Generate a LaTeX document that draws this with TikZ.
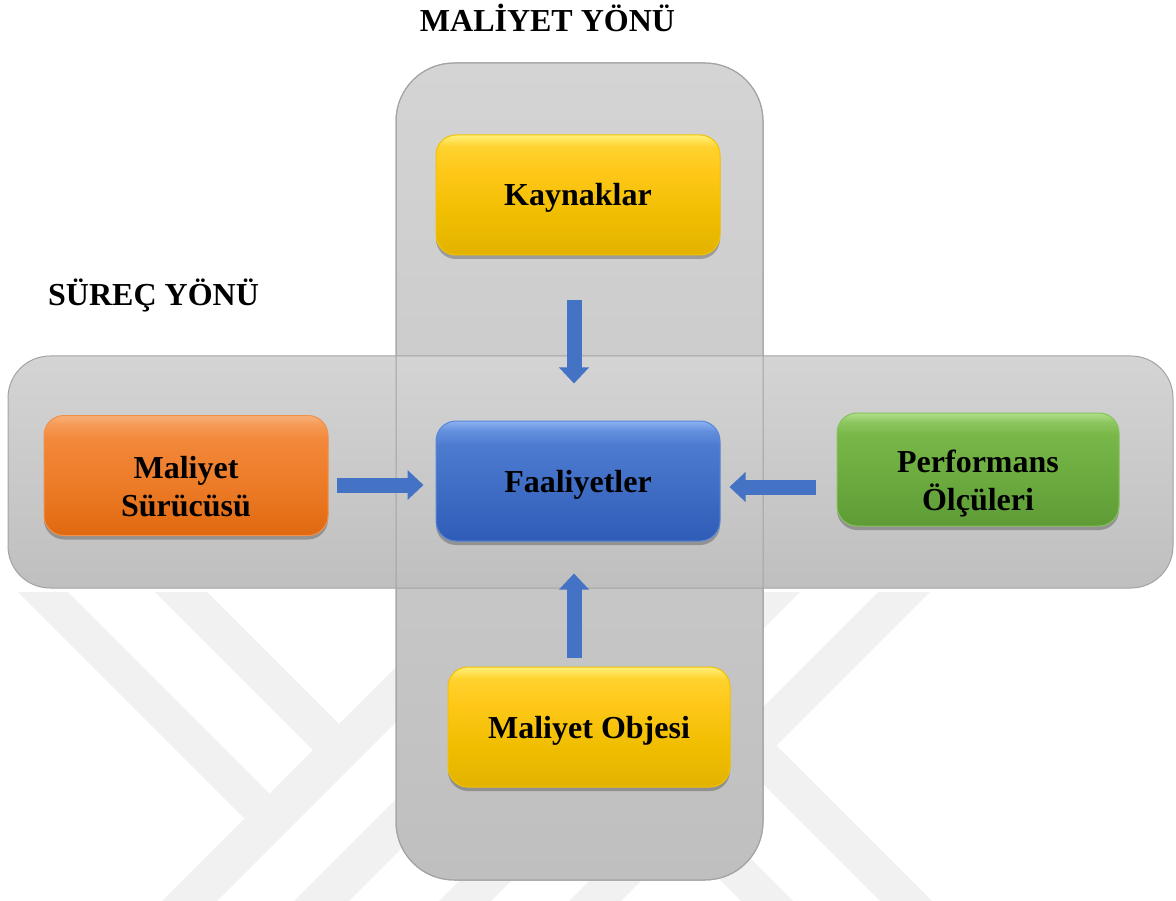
\documentclass[tikz,border=0pt]{standalone}
\usepackage{fontspec}
\setmainfont{Liberation Serif}
\usetikzlibrary{arrows.meta,shadows,calc}
\definecolor{wm}{HTML}{F1F1F1}
\definecolor{gtop}{HTML}{D4D4D4}
\definecolor{gbot}{HTML}{BFBFBF}
\definecolor{gline}{HTML}{A3A3A3}
\definecolor{ablue}{HTML}{4472C4}
\definecolor{yline}{HTML}{F2C200}
\definecolor{bline}{HTML}{5A86D6}
\definecolor{oline}{HTML}{F29048}
\definecolor{grline}{HTML}{86C25C}
\definecolor{ya}{HTML}{E3B200}\definecolor{yb}{HTML}{F0BE00}\definecolor{yc}{HTML}{FFC81A}
\definecolor{yd}{HTML}{FFD22E}\definecolor{ye}{HTML}{FFE45A}\definecolor{yf}{HTML}{FFF07A}
\definecolor{ba}{HTML}{2E5CB7}\definecolor{bb}{HTML}{3E6CC4}\definecolor{bc}{HTML}{4D7BD0}
\definecolor{bd}{HTML}{6590DE}\definecolor{be}{HTML}{8CB2F2}
\definecolor{oa}{HTML}{E0690F}\definecolor{ob}{HTML}{EC7A26}\definecolor{oc}{HTML}{F2883A}
\definecolor{od}{HTML}{F59A55}\definecolor{oe}{HTML}{F8B07A}
\definecolor{ga}{HTML}{5E9B36}\definecolor{gb}{HTML}{6AAA3E}\definecolor{gc}{HTML}{78B648}
\definecolor{gd}{HTML}{8CC660}\definecolor{ge}{HTML}{B0E08A}
\pgfdeclareverticalshading{yshade}{100bp}{color(0bp)=(ya); color(25bp)=(ya); color(42bp)=(yb); color(60bp)=(yc); color(70bp)=(yd); color(73bp)=(ye); color(75bp)=(yf); color(100bp)=(yf)}
\pgfdeclareverticalshading{bshade}{100bp}{color(0bp)=(ba); color(25bp)=(ba); color(45bp)=(bb); color(65bp)=(bc); color(71bp)=(bd); color(75bp)=(be); color(100bp)=(be)}
\pgfdeclareverticalshading{oshade}{100bp}{color(0bp)=(oa); color(25bp)=(oa); color(45bp)=(ob); color(65bp)=(oc); color(71bp)=(od); color(75bp)=(oe); color(100bp)=(oe)}
\pgfdeclareverticalshading{gshade}{100bp}{color(0bp)=(ga); color(25bp)=(ga); color(45bp)=(gb); color(65bp)=(gc); color(71bp)=(gd); color(75bp)=(ge); color(100bp)=(ge)}
\begin{document}
\begin{tikzpicture}[x=1pt,y=-1pt,
  bigfont/.style={font=\bfseries\fontsize{32}{38}\selectfont},
  title/.style={bigfont, inner sep=0pt, anchor=base},
  pane/.style={draw=gline, line width=1pt, top color=gtop, bottom color=gbot},
  card/.style={bigfont, align=center, rounded corners=20pt, inner sep=0pt,
    minimum width=284pt, minimum height=120pt, line width=1pt,
    drop shadow={shadow xshift=0pt, shadow yshift=-4pt, opacity=0.25, fill=black}},
  oneline/.style={text height=22pt, text depth=0pt},
  twoline/.style={text height=41pt, text depth=35pt},
  yellowcard/.style={card, draw=yline, shading=yshade},
  bluecard/.style={card, draw=bline, shading=bshade},
  orangecard/.style={card, draw=oline, shading=oshade},
  greencard/.style={card, draw=grline, shading=gshade},
  barrow/.style={draw=ablue, line width=15pt, -{Triangle[width=29pt,length=16pt]}}
]
\useasboundingbox (0,0) rectangle (1176,901);
% watermark
\begin{scope}
  \clip (0,592) rectangle (1176,901);
  \fill[wm] (471,592) -- (526,592) -- (217,901) -- (162,901) -- cycle;
  \fill[wm] (603,592) -- (658,592) -- (349,901) -- (294,901) -- cycle;
  \fill[wm] (748,592) -- (800,592) -- (491,901) -- (439,901) -- cycle;
  \fill[wm] (878,592) -- (930,592) -- (621,901) -- (569,901) -- cycle;
  \fill[wm] (18,592) -- (68,592) -- (269.5,793.5) -- (244.5,818.5) -- cycle;
  \fill[wm] (155,592) -- (207,592) -- (339,724) -- (313,750) -- cycle;
  \fill[wm] (776.5,745.5) -- (932,901) -- (880,901) -- (750.5,771.5) -- cycle;
  \fill[wm] (642,750) -- (793,901) -- (741,901) -- (616,776) -- cycle;
\end{scope}
% panes
\path[pane, rounded corners=58pt] (396,63) rectangle (763,880);
\path[pane, rounded corners=42pt] (8,356) rectangle (1173,588);
\draw[gline, line width=1pt, rounded corners=58pt] (396,63) rectangle (763,880);
% titles
\node[title] (tcost) at (547.5,32) {MALİYET YÖNÜ};
\node[title, anchor=base west] (tproc) at (48,306) {SÜREÇ YÖNÜ};
% cards
\node[yellowcard, oneline] (kay) at (578,195) {Kaynaklar};
\node[bluecard, oneline] (fa) at (578,481) {Faaliyetler};
\node[orangecard, twoline] (ms) at (186,475.5) {\begin{tabular}[t]{@{}c@{}}Maliyet\\Sürücüsü\end{tabular}};
\node[greencard, twoline, minimum width=282pt, minimum height=113pt] (po) at (978,469.5) {\begin{tabular}[t]{@{}c@{}}Performans\\Ölçüleri\end{tabular}};
\node[yellowcard, oneline, minimum width=282pt] (mo) at (589,727) {Maliyet Objesi};
% arrows
\draw[barrow, shorten <=45pt, shorten >=37pt] ([xshift=-4pt]kay.south) -- ([xshift=-4pt]fa.north);
\draw[barrow, shorten <=8pt, shorten >=12pt] ([yshift=-9.5pt]ms.east) -- ([yshift=-4pt]fa.west);
\draw[barrow, shorten <=21pt, shorten >=9pt] ([yshift=-17.5pt]po.west) -- ([yshift=-6pt]fa.east);
\draw[barrow, shorten <=9pt, shorten >=32pt] ([xshift=-15pt]mo.north) -- ([xshift=-4pt]fa.south);
\end{tikzpicture}
\end{document}
